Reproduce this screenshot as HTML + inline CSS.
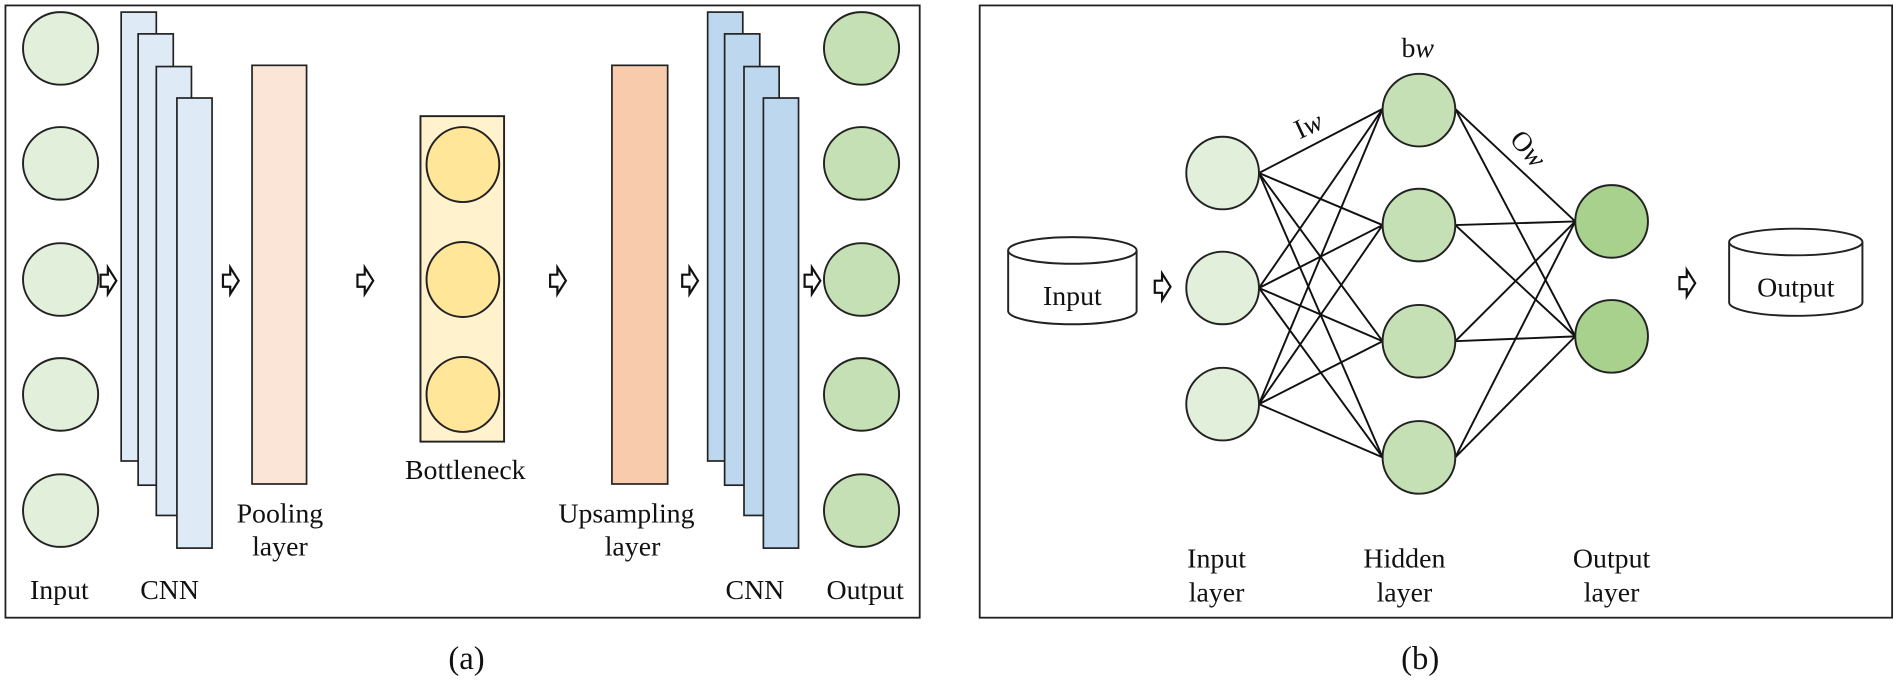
<!DOCTYPE html>
<html><head><meta charset="utf-8"><style>
html,body{margin:0;padding:0;background:#fff;}
svg{display:block;}
text{font-family:"Liberation Serif",serif;fill:#111;}
</style></head><body>
<svg width="1900" height="680" viewBox="0 0 1568 562" preserveAspectRatio="none">
<defs>
<g id="arr"><path d="M-6,-5 L0,-5 L0,-11 L7,0 L0,11 L0,5 L-6,5 Z" fill="#fff" stroke="#111" stroke-width="1.8"/></g>
</defs>
<!-- Panel a -->
<rect x="4.5" y="4.5" width="754.5" height="506" fill="#fff" stroke="#222" stroke-width="1.5"/>
<g stroke="#222" stroke-width="1.6" fill="#e2efda">
<ellipse cx="50" cy="40" rx="31" ry="30"/>
<ellipse cx="50" cy="135" rx="31" ry="30"/>
<ellipse cx="50" cy="231" rx="31" ry="30"/>
<ellipse cx="50" cy="326" rx="31" ry="30"/>
<ellipse cx="50" cy="422" rx="31" ry="30"/>
</g>
<g stroke="#222" stroke-width="1.4" fill="#deebf7">
<rect x="100" y="10" width="29" height="371"/>
<rect x="114" y="28" width="29" height="373"/>
<rect x="129" y="55" width="29" height="371"/>
<rect x="146" y="81" width="29" height="372"/>
</g>
<rect x="208" y="54" width="45" height="346" fill="#fbe5d6" stroke="#222" stroke-width="1.4"/>
<rect x="347" y="96" width="69" height="269" fill="#fff2cc" stroke="#222" stroke-width="1.6"/>
<g stroke="#222" stroke-width="1.6" fill="#ffe699">
<ellipse cx="382" cy="136" rx="30" ry="31"/>
<ellipse cx="382" cy="231" rx="30" ry="31"/>
<ellipse cx="382" cy="326" rx="30" ry="31"/>
</g>
<rect x="505" y="54" width="46" height="346" fill="#f8cbad" stroke="#222" stroke-width="1.4"/>
<g stroke="#222" stroke-width="1.4" fill="#bdd7ee">
<rect x="584" y="10" width="29" height="371"/>
<rect x="598" y="28" width="29" height="373"/>
<rect x="614" y="55" width="29" height="371"/>
<rect x="630" y="81" width="29" height="372"/>
</g>
<g stroke="#222" stroke-width="1.6" fill="#c5e0b4">
<ellipse cx="711" cy="40" rx="31" ry="30"/>
<ellipse cx="711" cy="135" rx="31" ry="30"/>
<ellipse cx="711" cy="231" rx="31" ry="30"/>
<ellipse cx="711" cy="326" rx="31" ry="30"/>
<ellipse cx="711" cy="422" rx="31" ry="30"/>
</g>
<use href="#arr" x="89" y="232"/>
<use href="#arr" x="190" y="232"/>
<use href="#arr" x="301" y="232"/>
<use href="#arr" x="460" y="232"/>
<use href="#arr" x="569" y="232"/>
<use href="#arr" x="670" y="232"/>
<g font-size="23" text-anchor="middle">
<text x="49" y="495">Input</text>
<text x="140" y="495">CNN</text>
<text x="231" y="432">Pooling</text>
<text x="231" y="459">layer</text>
<text x="384" y="396">Bottleneck</text>
<text x="517" y="432">Upsampling</text>
<text x="522" y="459">layer</text>
<text x="623" y="495">CNN</text>
<text x="714" y="495">Output</text>
</g>
<text x="385" y="553" font-size="27" text-anchor="middle">(a)</text>

<!-- Panel b -->
<rect x="808.5" y="4.5" width="753" height="506" fill="#fff" stroke="#222" stroke-width="1.5"/>
<g stroke="#111" stroke-width="1.6">
<line x1="1039" y1="143" x2="1141" y2="90"/><line x1="1039" y1="143" x2="1141" y2="186"/><line x1="1039" y1="143" x2="1141" y2="282"/><line x1="1039" y1="143" x2="1141" y2="378"/>
<line x1="1039" y1="238" x2="1141" y2="90"/><line x1="1039" y1="238" x2="1141" y2="186"/><line x1="1039" y1="238" x2="1141" y2="282"/><line x1="1039" y1="238" x2="1141" y2="378"/>
<line x1="1039" y1="334" x2="1141" y2="90"/><line x1="1039" y1="334" x2="1141" y2="186"/><line x1="1039" y1="334" x2="1141" y2="282"/><line x1="1039" y1="334" x2="1141" y2="378"/>
<line x1="1201" y1="90" x2="1300" y2="183"/><line x1="1201" y1="90" x2="1300" y2="278"/>
<line x1="1201" y1="186" x2="1300" y2="183"/><line x1="1201" y1="186" x2="1300" y2="278"/>
<line x1="1201" y1="282" x2="1300" y2="183"/><line x1="1201" y1="282" x2="1300" y2="278"/>
<line x1="1201" y1="378" x2="1300" y2="183"/><line x1="1201" y1="378" x2="1300" y2="278"/>
</g>
<g stroke="#222" stroke-width="1.6">
<g fill="#e2efda">
<ellipse cx="1009" cy="143" rx="30" ry="30"/>
<ellipse cx="1009" cy="238" rx="30" ry="30"/>
<ellipse cx="1009" cy="334" rx="30" ry="30"/>
</g>
<g fill="#c5e0b4">
<ellipse cx="1171" cy="91" rx="30" ry="30"/>
<ellipse cx="1171" cy="186" rx="30" ry="30"/>
<ellipse cx="1171" cy="282" rx="30" ry="30"/>
<ellipse cx="1171" cy="378" rx="30" ry="30"/>
</g>
<g fill="#a9d18e">
<ellipse cx="1330" cy="183" rx="30" ry="30"/>
<ellipse cx="1330" cy="278" rx="30" ry="30"/>
</g>
</g>
<g stroke="#222" stroke-width="1.6" fill="#fff">
<path d="M832,207 L832,257 A53,11 0 0 0 938,257 L938,207"/>
<ellipse cx="885" cy="207" rx="53" ry="11"/>
<path d="M1427,200 L1427,250 A55,11 0 0 0 1537,250 L1537,200"/>
<ellipse cx="1482" cy="200" rx="55" ry="11"/>
</g>
<use href="#arr" x="959" y="237"/>
<use href="#arr" x="1392" y="234"/>
<g font-size="23" text-anchor="middle">
<text x="885" y="252">Input</text>
<text x="1482" y="245">Output</text>
<text x="1170" y="47">b<tspan font-style="italic">w</tspan></text>
<text x="1080" y="111" transform="rotate(-25 1080 104)">I<tspan font-style="italic">w</tspan></text>
<text x="1260" y="130" transform="rotate(50 1260 124)">O<tspan font-style="italic">w</tspan></text>
<text x="1004" y="469">Input</text>
<text x="1004" y="497">layer</text>
<text x="1159" y="469">Hidden</text>
<text x="1159" y="497">layer</text>
<text x="1330" y="469">Output</text>
<text x="1330" y="497">layer</text>
</g>
<text x="1172" y="553" font-size="27" text-anchor="middle">(b)</text>
</svg>
</body></html>
